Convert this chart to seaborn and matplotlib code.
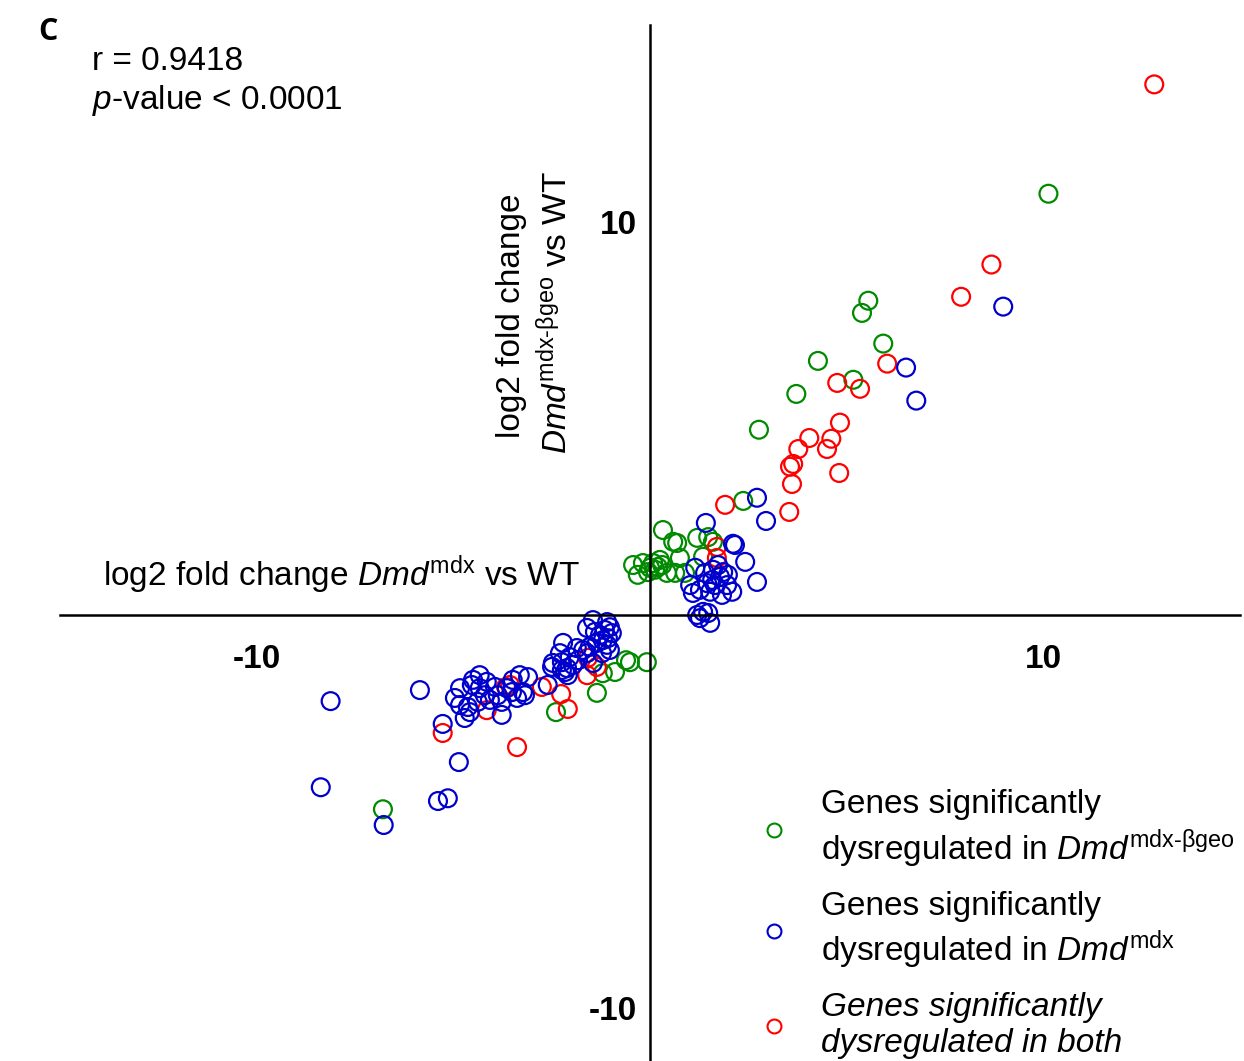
import matplotlib
matplotlib.use("Agg")
import matplotlib.pyplot as plt
from matplotlib.lines import Line2D
import seaborn as sns
import pandas as pd

# log2 fold change: x = Dmd-mdx vs WT, y = Dmd-mdx-βgeo vs WT
green_x = [10.13, 5.55, 5.39, 5.93, 4.27, 5.17, 3.72, 2.77, 2.37, 0.33, 0.59, 1.20, 1.48,
           1.60, 0.69, 0.76, 1.35, 0.64, 0.89, -0.43, -0.18, 0.08, 0.20, 0.13, 0.00, 0.25,
           -0.05, 0.43, -0.31, 0.31, -0.08, -0.61, -0.51, -0.89, -1.20, -1.35, -2.39, -6.79]
green_y = [10.71, 7.99, 7.68, 6.90, 6.46, 5.98, 5.62, 4.71, 2.90, 2.16, 1.86, 1.96, 1.98,
           1.86, 1.83, 1.45, 1.48, 1.07, 1.07, 1.27, 1.32, 1.32, 1.22, 1.15, 1.20, 1.40,
           1.09, 1.07, 1.02, 1.27, -1.20, -1.15, -1.20, -1.45, -1.48, -1.98, -2.47, -4.94]

blue_x = [8.98, 6.51, 6.77, 2.72, 1.42, 2.95, 2.16, 2.11, 2.42, 2.72, 1.15, 1.40, 1.60,
          1.78, 1.96, 2.09, 1.83, 1.53, 1.27, 1.02, 1.09, 1.65, 1.86, 1.73, 1.35, 1.27,
          1.53, 1.20, 1.48, 1.58, 1.98, 1.45,
          -8.12, -5.85, -8.37, -6.77, -5.39, -5.14, -4.86, -5.27, -4.96, -4.83, -4.71,
          -4.63, -4.53, -4.50, -4.33, -4.33, -4.38, -4.20, -4.15, -4.07, -3.94, -3.87,
          -3.77, -3.77, -3.64, -3.51, -3.49, -3.38, -3.31, -3.23, -3.10, -3.18, -4.58,
          -4.83, -2.49, -2.24, -2.16, -1.45, -1.09, -1.02, -0.97, -1.07, -1.20, -1.35,
          -1.27, -1.60, -1.53, -1.70, -1.86, -1.83, -2.04, -2.21, -2.29, -2.47, -2.11,
          -2.09, -2.24, -1.96, -1.45, -1.60, -1.09, -1.22, -1.02, -2.60, -1.15, -1.40]
blue_y = [7.84, 6.29, 5.45, 2.98, 2.34, 2.39, 1.78, 1.81, 1.35, 0.84, 1.20, 1.07, 1.15,
          0.97, 0.76, 0.59, 0.51, 0.59, 0.64, 0.76, 0.56, 0.76, 1.09, 1.27, 0.08, -0.08,
          -0.20, 0.00, 0.05, 0.89, 1.02, 0.81,
          -2.19, -1.91, -4.38, -5.34, -4.73, -4.66, -3.74, -2.77, -2.11, -1.86, -2.62,
          -2.34, -1.78, -1.65, -1.53, -1.86, -2.21, -2.04, -1.70, -2.16, -1.83, -2.04,
          -2.54, -2.21, -1.86, -1.96, -1.65, -2.11, -1.53, -1.96, -1.58, -2.04, -2.47,
          -2.29, -1.32, -1.20, -1.45, -0.13, -0.18, -0.31, -0.46, -0.59, -0.64, -0.71,
          -0.51, -0.33, -0.81, -0.89, -0.84, -1.15, -1.07, -0.71, -0.97, -1.22, -1.35,
          -1.53, -1.40, -1.27, -1.22, -0.97, -0.76, -0.97, -0.89, -1.78, -0.38, -0.43]

red_x = [12.82, 8.68, 7.91, 6.03, 5.34, 4.76, 4.83, 4.61, 4.50, 4.05, 3.77, 3.64, 3.56,
         3.61, 4.81, 3.54, 1.91, 1.70, 1.70,
         -5.27, -3.38, -2.09, -2.26, -2.75, -4.15, -1.58, -1.60, -1.35, -3.66, -3.56]
red_y = [13.49, 8.91, 8.09, 6.39, 5.75, 5.90, 4.89, 4.48, 4.22, 4.50, 4.22, 3.84, 3.77,
         3.33, 3.61, 2.62, 2.80, 1.73, 1.45,
         -3.00, -3.36, -2.39, -2.01, -1.83, -2.42, -1.09, -1.53, -1.32, -1.83, -1.78]

groups = ["mdx-bgeo", "mdx", "both"]
colors = {"mdx-bgeo": "#008a00", "mdx": "#0000cc", "both": "#ff0000"}

df = pd.concat([
    pd.DataFrame({"x": green_x, "y": green_y, "group": "mdx-bgeo"}),
    pd.DataFrame({"x": red_x, "y": red_y, "group": "both"}),
    pd.DataFrame({"x": blue_x, "y": blue_y, "group": "mdx"}),
], ignore_index=True)

sns.set_theme(style="white")
plt.rcParams["font.family"] = ["Liberation Sans", "DejaVu Sans"]
plt.rcParams["text.color"] = "black"
plt.rcParams["mathtext.fontset"] = "custom"
plt.rcParams["mathtext.rm"] = "Liberation Sans"
plt.rcParams["mathtext.it"] = "Liberation Sans:italic"
plt.rcParams["mathtext.bf"] = "Liberation Sans:bold"

FS = 24
W, H = 1244, 1061
fig = plt.figure(figsize=(W / 100, H / 100), dpi=100)
ax = fig.add_axes([60 / W, 0, 1180 / W, 1036 / H])

sns.scatterplot(data=df, x="x", y="y", hue="group", palette=colors, s=165,
                linewidth=1.6, legend=False, ax=ax)
for coll in ax.collections:
    coll.set_edgecolors(coll.get_facecolors())
    coll.set_facecolors("none")

ax.set_xlim(-15, 15)
ax.set_ylim(-11.34, 15)
ax.set_xlabel("")
ax.set_ylabel("")

for side in ["top", "right"]:
    ax.spines[side].set_visible(False)
for side in ["left", "bottom"]:
    ax.spines[side].set_position(("data", 0))
    ax.spines[side].set_linewidth(1.8)
    ax.spines[side].set_color("black")

ax.set_xticks([-10, 10])
ax.set_yticks([-10, 10])
ax.set_xticklabels(["-10", "10"], fontweight="bold", fontsize=FS)
ax.set_yticklabels(["-10", "10"], fontweight="bold", fontsize=FS)
ax.tick_params(axis="x", direction="out", length=6, width=1.8, pad=15, colors="black")
ax.tick_params(axis="y", direction="out", length=6, width=1.8, pad=3, colors="black")

# Axis titles placed next to the crossing axes
fig.text(103 / W, 1 - 586 / H, r"log2 fold change $\mathit{Dmd}^{\mathrm{mdx}}$ vs WT",
         fontsize=FS, ha="left", va="baseline")
fig.text(527 / W, 1 - 316 / H, "log2 fold change", fontsize=FS, rotation=90,
         ha="right", va="center")
fig.text(574 / W, 1 - 312 / H, r"$\mathit{Dmd}^{\text{mdx-βgeo}}$ vs WT", fontsize=FS,
         rotation=90, ha="right", va="center")

fig.text(38 / W, 1 - 40 / H, "C", fontsize=22, family="Open Sans", fontweight="bold",
         ha="left", va="baseline")
fig.text(92 / W, 1 - 70 / H, "r = 0.9418", fontsize=FS, ha="left", va="baseline")
fig.text(92 / W, 1 - 109 / H, r"$\mathit{p}$-value < 0.0001", fontsize=FS, ha="left",
         va="baseline")

labels = [
    "Genes significantly\ndysregulated in $\\mathit{Dmd}^{\\text{mdx-βgeo}}$",
    "Genes significantly\ndysregulated in $\\mathit{Dmd}^{\\mathrm{mdx}}$",
    "Genes significantly\ndysregulated in both",
]
handles = [Line2D([], [], linestyle="none", marker="o", markersize=10,
                  markerfacecolor="none", markeredgecolor=colors[g], markeredgewidth=1.5)
           for g in groups]
leg = ax.legend(handles, labels, loc="lower left", bbox_to_anchor=(727 / W, -11 / H),
                bbox_transform=fig.transFigure, frameon=False, fontsize=FS,
                handletextpad=0.42, labelspacing=0.63, borderaxespad=0)
leg.get_texts()[2].set_fontstyle("italic")

fig.savefig("out.png", dpi=100)
